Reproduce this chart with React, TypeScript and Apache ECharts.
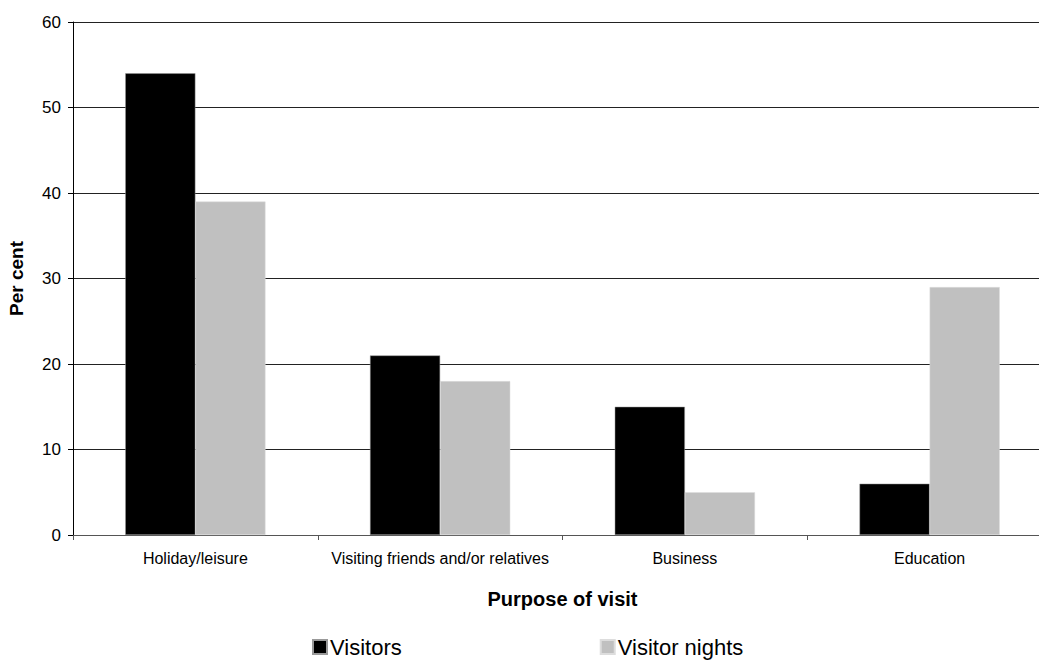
import React, { useEffect, useRef } from "react";
import * as echarts from "echarts";

const categories = [
  "Holiday/leisure",
  "Visiting friends and/or relatives",
  "Business",
  "Education",
];
const visitors = [54, 21, 15, 6];
const visitorNights = [39, 18, 5, 29];

export default function App() {
  const ref = useRef<HTMLDivElement>(null);

  useEffect(() => {
    if (!ref.current) return;
    const chart = echarts.init(ref.current, undefined, { renderer: "svg" });
    const font = "'Liberation Sans', Arial, sans-serif";
    chart.setOption({
      animation: false,
      textStyle: { fontFamily: font },
      grid: {
        left: 73,
        width: 979,
        top: 22,
        height: 513,
        containLabel: false,
        outerBoundsMode: "none",
      },
      xAxis: {
        type: "category",
        data: categories,
        name: "Purpose of visit",
        nameLocation: "middle",
        nameGap: 54,
        nameTextStyle: {
          fontFamily: font,
          fontSize: 20,
          fontWeight: "bold",
          color: "#000",
        },
        axisLine: { lineStyle: { color: "#555", width: 1 } },
        axisTick: { show: true, length: 5, lineStyle: { color: "#555" } },
        axisLabel: { fontSize: 16, color: "#000", margin: 15, fontFamily: font, interval: 0 },
      },
      yAxis: {
        type: "value",
        min: 0,
        max: 60,
        interval: 10,
        name: "Per cent",
        nameLocation: "middle",
        nameGap: 47,
        nameTextStyle: {
          fontFamily: font,
          fontSize: 19,
          fontWeight: "bold",
          color: "#000",
        },
        axisLine: { show: true, lineStyle: { color: "#000", width: 1 } },
        axisTick: { show: true, length: 5, lineStyle: { color: "#000" } },
        axisLabel: { fontSize: 17, color: "#000", margin: 12, fontFamily: font },
        splitLine: { lineStyle: { color: "#222", width: 1 } },
      },
      legend: {
        bottom: -3,
        left: 307,
        itemGap: 198,
        itemWidth: 14,
        itemHeight: 14,
        icon: "rect",
        textStyle: { fontSize: 22, color: "#000", fontFamily: font, padding: [0, 0, 0, -2] },
        data: ["Visitors", "Visitor nights"],
      },
      series: [
        {
          name: "Visitors",
          type: "bar",
          data: visitors,
          barGap: "0%",
          barCategoryGap: "42.7%",
          itemStyle: { color: "#000", borderColor: "#999", borderWidth: 0.5 },
        },
        {
          name: "Visitor nights",
          type: "bar",
          data: visitorNights,
          itemStyle: { color: "#c0c0c0", borderColor: "#ddd", borderWidth: 0.5 },
        },
      ],
    });
    return () => chart.dispose();
  }, []);

  return <div ref={ref} style={{ width: 1039, height: 660, position: "absolute", left: 0, top: 0 }} />;
}
